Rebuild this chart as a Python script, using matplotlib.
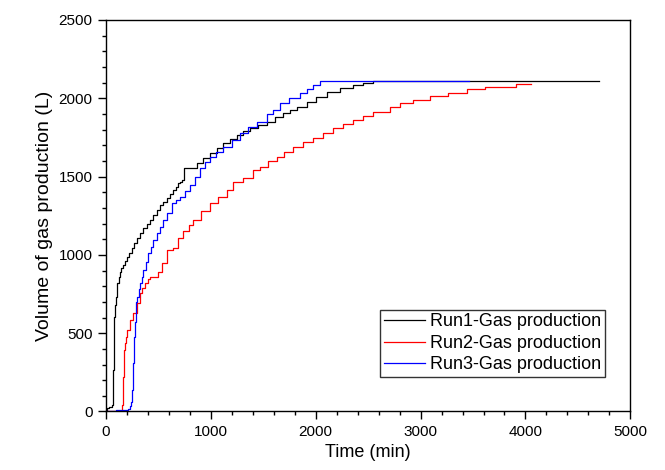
import matplotlib
matplotlib.use("Agg")
import matplotlib.pyplot as plt
from matplotlib.ticker import MultipleLocator

plt.rcParams['font.family'] = ['Liberation Sans', 'DejaVu Sans']

# values (time in min, volume in L)
t_run1 = [0, 10, 30, 63, 68, 73, 78, 82, 88, 95, 103, 111, 122, 136, 150, 168, 185, 200, 225, 248,
          270, 295, 327, 358, 390, 422, 455, 486, 520, 550, 581, 612, 644, 670, 692, 710, 730, 746,
          867, 930, 993, 1060, 1120, 1180, 1247, 1310, 1374, 1450, 1533, 1610, 1691, 1760, 1819,
          1914, 2000, 2105, 2230, 2358, 2450, 2549, 4700]
v_run1 = [5, 20, 30, 40, 130, 265, 440, 605, 680, 733, 780, 818, 860, 893, 915, 935, 960, 988, 1015,
          1042, 1075, 1106, 1140, 1170, 1195, 1223, 1255, 1287, 1320, 1340, 1361, 1390, 1414, 1435,
          1457, 1468, 1480, 1553, 1585, 1620, 1649, 1680, 1713, 1740, 1766, 1790, 1808, 1830, 1851,
          1880, 1904, 1925, 1946, 1979, 2010, 2042, 2065, 2085, 2095, 2112, 2112]

t_run2 = [0, 152, 157, 162, 168, 172, 177, 184, 190, 206, 231, 263, 295, 327, 350, 374, 400, 422, 501,
          540, 581, 644, 692, 740, 790, 834, 910, 993, 1070, 1152, 1215, 1311, 1406, 1470, 1550, 1628,
          1700, 1787, 1880, 1977, 2070, 2168, 2260, 2358, 2450, 2549, 2612, 2708, 2803, 2930, 3089,
          3263, 3438, 3612, 3914, 4057]
v_run2 = [0, 5, 40, 95, 222, 310, 393, 440, 478, 520, 584, 627, 691, 755, 790, 818, 845, 861, 893,
          946, 1031, 1042, 1106, 1150, 1190, 1223, 1280, 1330, 1370, 1414, 1467, 1489, 1542, 1563,
          1600, 1627, 1660, 1691, 1720, 1745, 1780, 1808, 1835, 1861, 1890, 1915, 1915, 1942, 1968,
          1989, 2015, 2036, 2057, 2074, 2091, 2091]

t_run3 = [0, 100, 200, 215, 231, 240, 248, 253, 257, 260, 263, 268, 273, 280, 286, 293, 301, 313,
          327, 343, 358, 380, 406, 430, 454, 485, 517, 550, 581, 628, 670, 708, 760, 803, 850, 898,
          950, 993, 1050, 1120, 1200, 1279, 1360, 1438, 1533, 1596, 1660, 1750, 1850, 1920, 1977,
          2041, 3460]
v_run3 = [5, 8, 12, 15, 36, 60, 95, 135, 180, 240, 307, 390, 478, 570, 648, 700, 733, 780, 818, 860,
          903, 955, 1010, 1050, 1095, 1140, 1180, 1225, 1266, 1330, 1350, 1372, 1410, 1446, 1500,
          1553, 1590, 1627, 1660, 1691, 1735, 1777, 1815, 1851, 1900, 1925, 1968, 2000, 2032, 2060,
          2085, 2112, 2112]

labels = ['Run1-Gas production', 'Run2-Gas production', 'Run3-Gas production']

fig = plt.figure(figsize=(6.65, 4.7), dpi=100)
ax = fig.add_axes([0.159, 0.1245, 0.789, 0.833])

ax.plot(t_run1, v_run1, color='black', lw=0.9, drawstyle='steps-post', label=labels[0])
ax.plot(t_run2, v_run2, color='red', lw=0.9, drawstyle='steps-post', label=labels[1])
ax.plot(t_run3, v_run3, color='blue', lw=0.9, drawstyle='steps-post', label=labels[2])

ax.set_xlim(0, 5000)
ax.set_ylim(0, 2500)
ax.xaxis.set_major_locator(MultipleLocator(1000))
ax.xaxis.set_minor_locator(MultipleLocator(200))
ax.yaxis.set_major_locator(MultipleLocator(500))
ax.yaxis.set_minor_locator(MultipleLocator(100))
ax.tick_params(which='both', direction='out', top=False, right=False, labelsize=11, width=1)
ax.tick_params(which='major', length=6)
ax.tick_params(which='minor', length=3)
for s in ax.spines.values():
    s.set_linewidth(1)

ax.set_xlabel('Time (min)', fontsize=13)
ax.set_ylabel('Volume of gas production (L)', fontsize=14)

leg = ax.legend(loc='lower right', bbox_to_anchor=(0.952, 0.088), borderaxespad=0,
                fontsize=13, frameon=True, fancybox=False, edgecolor='black',
                handlelength=2.3, handletextpad=0.3, labelspacing=0.25, borderpad=0.2)
leg.get_frame().set_linewidth(1)

fig.savefig('out.png', dpi=100)
